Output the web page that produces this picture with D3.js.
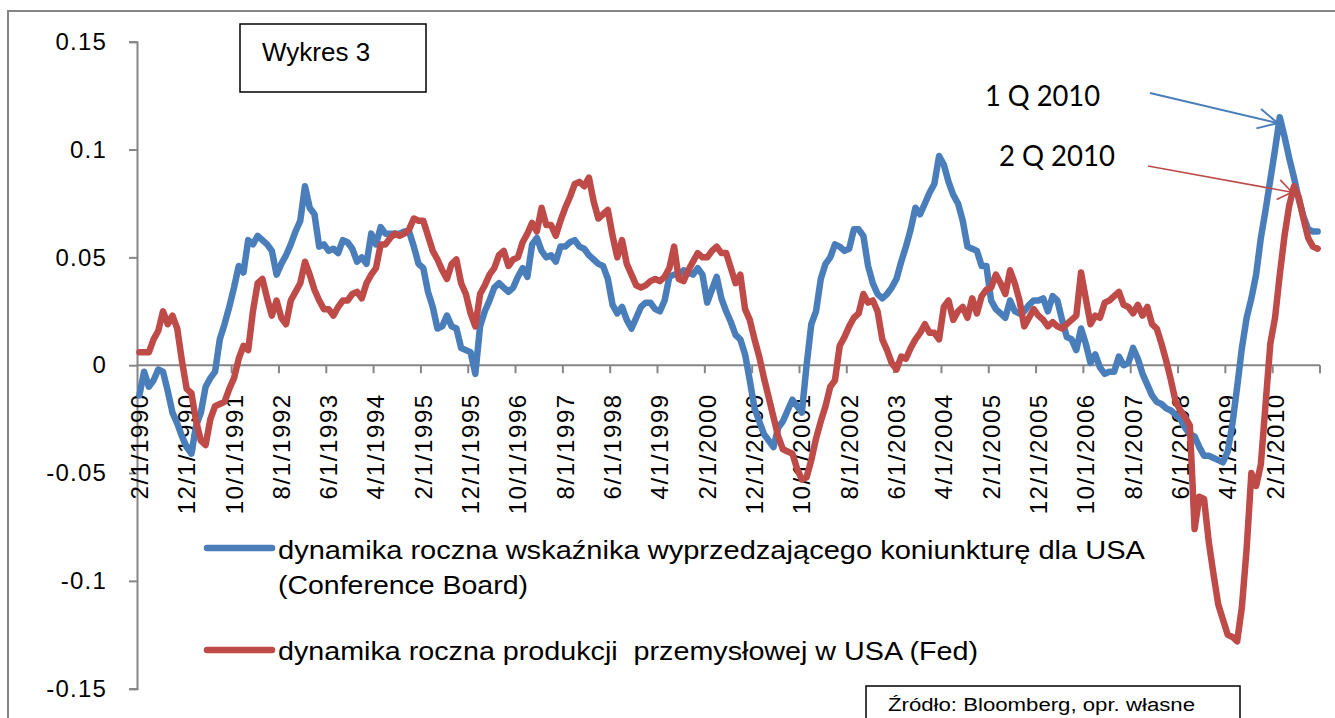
<!DOCTYPE html>
<html>
<head>
<meta charset="utf-8">
<script src="https://cdn.jsdelivr.net/npm/d3@7"></script>
<style>
  body { margin: 0; background: #fff; }
  svg { display: block; font-family: "Liberation Sans", Arial, sans-serif; }
</style>
</head>
<body>
<div id="chart"></div>
<script>
const width = 1335, height = 718;

// y/y change of the Conference Board leading index (in thousandths), monthly from 2/1990
const leadingIndex = [
  -14, -3, -10, -7, -2, -3, -12, -22, -27, -33,
  -38, -41, -28, -22, -10, -6, -3, 12, 19, 27,
  36, 46, 43, 58, 56, 60, 58, 56, 53, 42,
  47, 51, 56, 62, 67, 83, 73, 70, 55, 56,
  53, 54, 52, 58, 57, 54, 48, 50, 47, 61,
  56, 64, 61, 61, 61, 61, 62, 62, 55, 47,
  45, 34, 27, 17, 18, 23, 18, 17, 8, 7,
  6, -4, 18, 25, 30, 36, 38, 36, 34, 36,
  41, 45, 41, 56, 59, 53, 50, 51, 48, 55,
  55, 57, 58, 55, 54, 51, 49, 47, 46, 40,
  28, 24, 27, 21, 17, 22, 27, 29, 29, 26,
  25, 30, 41, 42, 42, 44, 43, 42, 45, 42,
  29, 35, 41, 31, 25, 20, 14, 12, 5, -7,
  -20, -26, -32, -35, -38, -29, -26, -21, -16, -19,
  -22, 0, 19, 25, 40, 47, 50, 56, 55, 53,
  54, 63, 63, 60, 46, 38, 33, 31, 33, 36,
  40, 48, 55, 63, 73, 70, 75, 80, 84, 97,
  93, 85, 79, 75, 67, 55, 54, 53, 46, 46,
  30, 26, 24, 22, 30, 25, 24, 25, 28, 30,
  30, 31, 25, 32, 30, 21, 13, 12, 7, 17,
  10, 1, 5, -1, -4, -3, -3, 4, 0, 1,
  8, 3, -4, -9, -14, -17, -18, -20, -21, -23,
  -25, -29, -32, -33, -38, -42, -42, -43, -44, -45,
  -40, -27, -10, 8, 22, 31, 42, 59, 72, 86,
  100, 115, 106, 96, 87, 77, 69, 63, 62, 62
];

// y/y change of US industrial production (Fed), same months
const industrialProd = [
  6, 6, 6, 12, 16, 25, 19, 23, 17, 2,
  -11, -13, -26, -35, -37, -25, -19, -18, -17, -11,
  -6, 3, 9, 7, 25, 38, 40, 31, 23, 30,
  22, 19, 30, 34, 38, 48, 42, 35, 30, 26,
  26, 23, 27, 30, 30, 33, 34, 31, 38, 42,
  45, 56, 56, 59, 61, 60, 61, 63, 68, 67,
  67, 60, 53, 49, 44, 40, 47, 49, 38, 33,
  24, 18, 33, 37, 42, 45, 51, 53, 46, 49,
  50, 57, 61, 66, 62, 73, 65, 65, 60, 67,
  73, 78, 84, 85, 83, 87, 76, 68, 70, 72,
  60, 50, 58, 47, 42, 37, 36, 37, 39, 40,
  39, 41, 45, 55, 40, 39, 44, 48, 52, 50,
  50, 53, 55, 52, 52, 45, 38, 42, 26, 21,
  12, 4, -6, -15, -24, -33, -39, -40, -41, -48,
  -53, -52, -44, -34, -26, -19, -10, -7, 9, 13,
  18, 22, 24, 33, 29, 30, 25, 12, 7, 1,
  -2, 4, 3, 8, 12, 15, 19, 15, 15, 12,
  27, 30, 21, 25, 27, 22, 31, 24, 32, 35,
  36, 42, 38, 33, 44, 38, 30, 18, 22, 26,
  23, 21, 18, 20, 18, 17, 19, 21, 23, 43,
  31, 19, 23, 22, 29, 30, 32, 34, 28, 27,
  24, 28, 23, 27, 19, 17, 10, 2, -7, -17,
  -21, -24, -28, -76, -61, -62, -82, -97, -111, -118,
  -125, -126, -128, -112, -85, -50, -56, -46, -18, 10,
  22, 42, 60, 74, 83, 78, 68, 59, 55, 54
];

const months = d3.timeMonth.range(new Date(1990, 1, 1), new Date(2010, 11, 1));

const xTickLabels = [
  "2/1/1990", "12/1/1990", "10/1/1991", "8/1/1992", "6/1/1993",
  "4/1/1994", "2/1/1995", "12/1/1995", "10/1/1996", "8/1/1997",
  "6/1/1998", "4/1/1999", "2/1/2000", "12/1/2000", "10/1/2001",
  "8/1/2002", "6/1/2003", "4/1/2004", "2/1/2005", "12/1/2005",
  "10/1/2006", "8/1/2007", "6/1/2008", "4/1/2009", "2/1/2010"
];
const yTicks = [0.15, 0.1, 0.05, 0, -0.05, -0.1, -0.15];

const seriesNames = [
  ["dynamika roczna wskaźnika wyprzedzającego koniunkturę dla USA", "(Conference Board)"],
  ["dynamika roczna produkcji  przemysłowej w USA (Fed)"]
];
const colors = ["#4a7ebb", "#be4b48"];

const svg = d3.select("#chart")
  .append("svg")
    .attr("width", width)
    .attr("height", height);

// outer chart frame (runs off the right and bottom edges)
svg.append("rect")
  .attr("x", 8).attr("y", 11)
  .attr("width", 1400).attr("height", 800)
  .attr("fill", "none")
  .attr("stroke", "#868686")
  .attr("stroke-width", 2);

const xScale = d3.scaleLinear()
  .domain([0, months.length])
  .range([137, 1320]);

const yScale = d3.scaleLinear()
  .domain([-0.15, 0.15])
  .range([688.7, 41.7]);

// y axis
const yAxis = svg.append("g")
  .attr("transform", `translate(${xScale(0)},0)`)
  .call(d3.axisLeft(yScale)
    .tickValues(yTicks)
    .tickFormat(d => String(d))
    .tickSize(8)
    .tickPadding(22));

yAxis.select(".domain").attr("stroke", "#868686").attr("stroke-width", 2);
yAxis.selectAll(".tick line").attr("stroke", "#868686").attr("stroke-width", 2);
yAxis.selectAll(".tick text")
  .attr("fill", "#000")
  .style("font-family", "'Liberation Sans', Arial, sans-serif")
  .style("font-size", "24px")
  .style("letter-spacing", "1.2px");

// x axis at zero, ticks between category groups
const y0 = yScale(0);
svg.append("line")
  .attr("x1", xScale(0)).attr("x2", xScale(months.length))
  .attr("y1", y0).attr("y2", y0)
  .attr("stroke", "#868686")
  .attr("stroke-width", 2);

svg.selectAll(".xtick")
  .data(d3.range(10, months.length + 1, 10))
  .join("line")
    .attr("class", "xtick")
    .attr("x1", d => xScale(d)).attr("x2", d => xScale(d))
    .attr("y1", y0).attr("y2", y0 + 8)
    .attr("stroke", "#868686")
    .attr("stroke-width", 2);

svg.selectAll(".xlabel")
  .data(xTickLabels)
  .join("text")
    .attr("class", "xlabel")
    .attr("transform", (d, i) => `translate(${xScale(i * 10 + 0.5)},${y0 + 28}) rotate(-90)`)
    .attr("text-anchor", "end")
    .attr("dominant-baseline", "central")
    .style("font-size", "24px")
    .style("letter-spacing", "1.6px")
    .text(d => d);

// series lines
const line = d3.line()
  .x((d, i) => xScale(i + 0.5))
  .y(d => yScale(d / 1000))
  .curve(d3.curveLinear);

[leadingIndex, industrialProd].forEach((series, k) => {
  svg.append("path")
    .datum(series)
    .attr("d", line)
    .attr("fill", "none")
    .attr("stroke", colors[k])
    .attr("stroke-width", 6.5)
    .attr("stroke-linejoin", "round")
    .attr("stroke-linecap", "round");
});

// "Wykres 3" box
svg.append("rect")
  .attr("x", 240).attr("y", 24)
  .attr("width", 186).attr("height", 68)
  .attr("fill", "#fff")
  .attr("stroke", "#000")
  .attr("stroke-width", 1.5);
svg.append("text")
  .attr("x", 262).attr("y", 61)
  .style("font-size", "26px")
  .text("Wykres 3");

// quarter annotations with arrows pointing at the peaks
const annotations = [
  { label: "1 Q 2010", tx: 985, ty: 106, len: 115, from: [1150, 93], idx: 241, series: leadingIndex, color: colors[0], sw: 2, head: 22, spread: 27 },
  { label: "2 Q 2010", tx: 999, ty: 166, len: 116, from: [1148, 166], idx: 244, series: industrialProd, color: colors[1], sw: 1.6, head: 17, spread: 36 }
];

annotations.forEach(a => {
  svg.append("text")
    .attr("x", a.tx).attr("y", a.ty)
    .attr("textLength", a.len)
    .attr("lengthAdjust", "spacingAndGlyphs")
    .style("font-family", "Lato, 'Open Sans', sans-serif")
    .style("font-size", "29px")
    .text(a.label);

  const tip = [xScale(a.idx + 0.5) - 2, yScale(a.series[a.idx] / 1000) + 6];
  const ang = Math.atan2(tip[1] - a.from[1], tip[0] - a.from[0]);
  const g = svg.append("g")
    .attr("stroke", a.color)
    .attr("stroke-width", a.sw)
    .attr("fill", "none");
  g.append("line")
    .attr("x1", a.from[0]).attr("y1", a.from[1])
    .attr("x2", tip[0]).attr("y2", tip[1]);
  [-1, 1].forEach(s => {
    const t = ang + Math.PI + s * a.spread * Math.PI / 180;
    g.append("line")
      .attr("x1", tip[0]).attr("y1", tip[1])
      .attr("x2", tip[0] + a.head * Math.cos(t))
      .attr("y2", tip[1] + a.head * Math.sin(t));
  });
});

// legend
const legendRows = [
  { y: 548, lines: [[559, 867], [594, 250]] },
  { y: 650, lines: [[660, 700]] }
];

legendRows.forEach((row, k) => {
  svg.append("line")
    .attr("x1", 207).attr("x2", 272)
    .attr("y1", row.y).attr("y2", row.y)
    .attr("stroke", colors[k])
    .attr("stroke-width", 6.5)
    .attr("stroke-linecap", "round");
  row.lines.forEach(([by, len], j) => {
    svg.append("text")
      .attr("x", 278).attr("y", by)
      .attr("textLength", len)
      .attr("lengthAdjust", "spacingAndGlyphs")
      .style("font-size", "26px")
      .style("white-space", "pre")
      .text(seriesNames[k][j]);
  });
});

// source box
svg.append("rect")
  .attr("x", 866).attr("y", 686)
  .attr("width", 374).attr("height", 60)
  .attr("fill", "#fff")
  .attr("stroke", "#000")
  .attr("stroke-width", 1.5);
svg.append("text")
  .attr("x", 888).attr("y", 711)
  .attr("textLength", 307)
  .attr("lengthAdjust", "spacingAndGlyphs")
  .style("font-size", "18px")
  .text("Źródło: Bloomberg, opr. własne");
</script>
</body>
</html>
